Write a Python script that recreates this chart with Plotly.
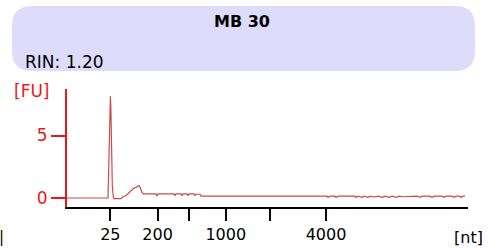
import plotly.graph_objects as go

# Migration axis (arbitrary time units) and fluorescence (FU)
time_s = [19.0, 20.62, 22.49, 24.11, 24.17, 24.27, 24.36, 24.41, 24.47, 24.53, 24.58, 24.65,
          24.74, 24.81, 25.73, 25.98, 26.36, 26.61, 26.86, 27.11, 27.36, 27.61, 27.79, 27.98,
          28.16, 28.35, 28.54, 30.10, 30.22, 30.35, 32.34, 32.47, 32.59, 33.21, 33.34, 33.46,
          33.96, 34.09, 34.21, 34.84, 34.96, 35.08, 35.58, 35.71, 43.07, 48.05, 51.42,
          51.54, 51.79, 52.42, 52.54, 52.79, 54.91, 55.04, 55.29, 55.79, 56.04, 56.54, 56.80,
          57.29, 57.79, 58.28, 58.66, 59.16, 59.53, 60.03, 60.41, 60.91, 62.64, 63.02, 63.27,
          64.26, 64.51, 64.76, 65.76, 66.01, 66.26, 67.01, 67.26, 67.51, 68.0, 68.13, 68.38, 68.63]
fu = [0.0, 0.0, 0.0, 0.0, 1.5, 5.5, 7.9, 8.13, 7.2, 4.8, 3.2, 1.0,
      0.3, -0.05, -0.05, 0.1, 0.2, 0.35, 0.45, 0.6, 0.8, 0.85, 0.95, 1.0,
      0.8, 0.45, 0.33, 0.33, 0.15, 0.33, 0.33, 0.18, 0.33, 0.33, 0.2, 0.33,
      0.33, 0.18, 0.33, 0.33, 0.18, 0.3, 0.3, 0.15, 0.15, 0.15, 0.15,
      0.05, 0.15, 0.15, 0.05, 0.15, 0.15, 0.05, 0.15, 0.05, 0.15, 0.05, 0.15,
      0.08, 0.15, 0.05, 0.15, 0.05, 0.15, 0.05, 0.15, 0.1, 0.15, 0.05, 0.15,
      0.15, 0.05, 0.15, 0.15, 0.05, 0.15, 0.15, 0.05, 0.15, 0.15, 0.05, 0.15, 0.15]

x_tick_pos = [24.4, 30.3, 34.2, 38.8, 44.3, 51.3]
x_tick_labels = ["25", "200", "", "1000", "", "4000"]
y_tick_pos = [0, 5]
y_tick_labels = ["0", "5"]

title = "MB 30"
rin_text = "RIN: 1.20"

FONT = "DejaVu Sans"
L, R, T, B = 67, 22, 89, 41
W, H = 490, 248
pw, ph = W - L - R, H - T - B

def px(xp):
    return (xp - L) / pw

def py(yp):
    return (H - B - yp) / ph

fig = go.Figure()
fig.add_trace(go.Scatter(x=time_s, y=fu, mode="lines",
                         line=dict(color="#cc4a4a", width=1.2), hoverinfo="skip"))

fig.update_layout(
    width=W, height=H, autosize=False,
    margin=dict(l=L, r=R, t=T, b=B, pad=0, autoexpand=False),
    paper_bgcolor="white", plot_bgcolor="white",
    showlegend=False,
    font=dict(family=FONT, size=16, color="black"),
    xaxis=dict(range=[19, 69], showgrid=False, zeroline=False, automargin=False,
               showline=True, linecolor="black", linewidth=2,
               tickmode="array", tickvals=x_tick_pos, ticktext=x_tick_labels,
               ticks="outside", ticklen=12, tickwidth=2, tickcolor="black",
               tickfont=dict(family=FONT, size=16, color="black")),
    yaxis=dict(range=[-0.72, 8.72], showgrid=False, zeroline=False, automargin=False,
               showline=True, linecolor="#e8191c", linewidth=2,
               tickmode="array", tickvals=y_tick_pos, ticktext=y_tick_labels,
               ticks="outside", ticklen=14, tickwidth=2, tickcolor="#e8191c",
               tickfont=dict(family=FONT, size=17, color="#e8191c")),
)

# Header rounded box (pixel sized, anchored to top-left of plot area)
x0, x1 = 12 - L, 475 - L
ytop, ybot = T - 6, T - 71
r = 20
path = (f"M {x0 + r},{ytop} L {x1 - r},{ytop} Q {x1},{ytop} {x1},{ytop - r} "
        f"L {x1},{ybot + r} Q {x1},{ybot} {x1 - r},{ybot} "
        f"L {x0 + r},{ybot} Q {x0},{ybot} {x0},{ybot + r} "
        f"L {x0},{ytop - r} Q {x0},{ytop} {x0 + r},{ytop} Z")
fig.add_shape(type="path", xref="paper", yref="paper",
              xsizemode="pixel", ysizemode="pixel", xanchor=0, yanchor=1,
              path=path, fillcolor="#dddcfb", line=dict(width=0), layer="below")

fig.add_annotation(text=f"<b>{title}</b>", xref="paper", yref="paper",
                   x=px(242), y=py(21), showarrow=False,
                   font=dict(family=FONT, size=16, color="black"),
                   xanchor="center", yanchor="middle")
fig.add_annotation(text=rin_text, xref="paper", yref="paper",
                   x=px(23), y=py(62), showarrow=False,
                   font=dict(family=FONT, size=17, color="black"),
                   xanchor="left", yanchor="middle")
fig.add_annotation(text="[FU]", xref="paper", yref="paper",
                   x=px(31.5), y=py(90.5), showarrow=False,
                   font=dict(family=FONT, size=17, color="#e8191c"),
                   xanchor="center", yanchor="middle")
fig.add_annotation(text="[nt]", xref="paper", yref="paper",
                   x=px(468.5), y=py(237), showarrow=False,
                   font=dict(family=FONT, size=16, color="black"),
                   xanchor="center", yanchor="middle")
fig.add_annotation(text="|", xref="paper", yref="paper",
                   x=px(1.5), y=py(237), showarrow=False,
                   font=dict(family=FONT, size=15, color="black"),
                   xanchor="center", yanchor="middle")

fig.write_html("out.html", config={"displayModeBar": False},
               post_script="document.body.style.margin='0';document.body.style.padding='0';")
